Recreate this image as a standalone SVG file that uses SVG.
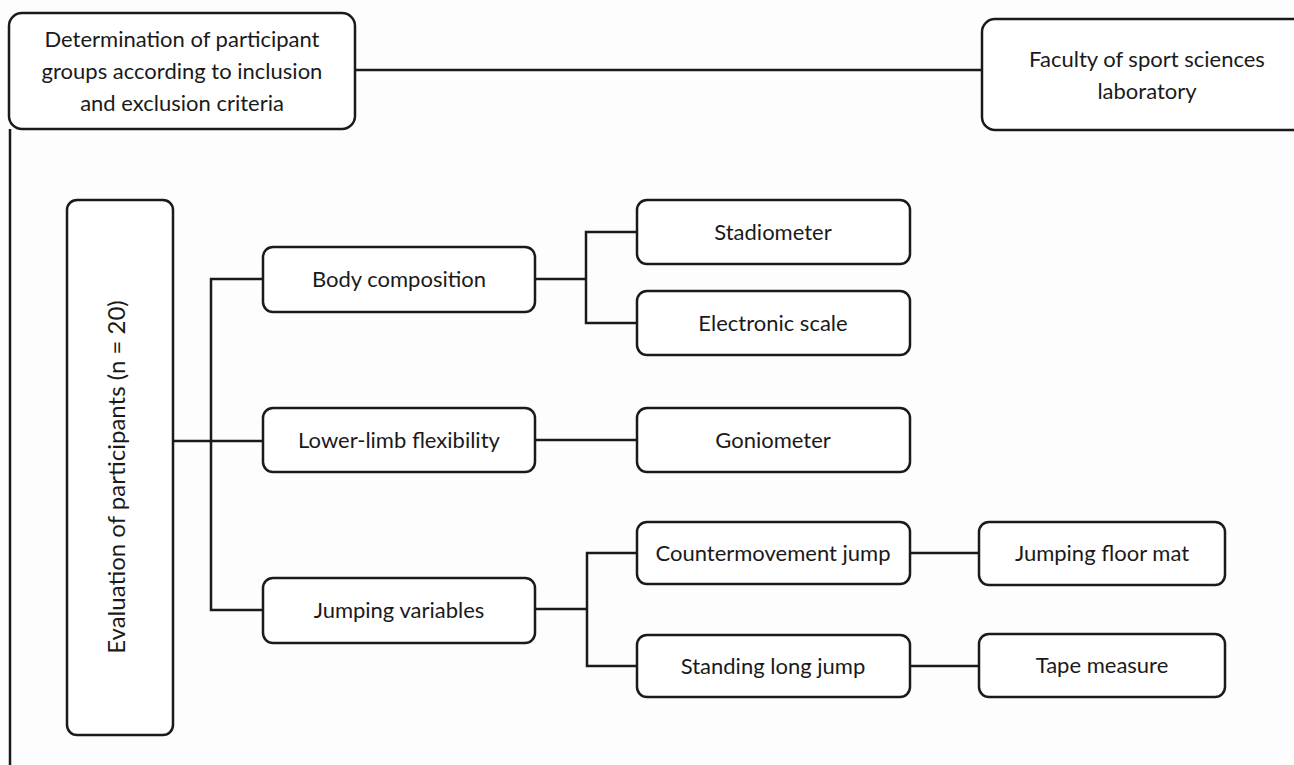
<svg xmlns="http://www.w3.org/2000/svg" width="1294" height="765" viewBox="0 0 1294 765">
<style>
.box{fill:#ffffff;stroke:#1a1a1a;stroke-width:2.5}
.t{font-family:Lato,"Liberation Sans",sans-serif;font-size:22px;fill:#1a1a1a;text-anchor:middle}
.c{fill:none;stroke:#1a1a1a;stroke-width:2.5}
</style>
<rect x="0" y="0" width="1294" height="765" fill="#fdfdfd"/>
<g id="connectors">
<path class="c" d="M10 129 V765"/>
<path class="c" d="M355 70 H982"/>
<path class="c" d="M173 441 H263"/>
<path class="c" d="M263 279 H211 V610 H263"/>
<path class="c" d="M535 279 H586"/>
<path class="c" d="M637 232 H586 V323 H637"/>
<path class="c" d="M535 440 H637"/>
<path class="c" d="M535 609 H587"/>
<path class="c" d="M637 553 H587 V666 H637"/>
<path class="c" d="M910 553 H979"/>
<path class="c" d="M910 666 H979"/>
</g>
<g id="n-determination">
<rect class="box" x="9" y="13" width="346" height="116" rx="13"/>
<text class="t" x="182" y="47">Determination of participant</text>
<text class="t" x="182" y="79">groups according to inclusion</text>
<text class="t" x="182" y="111">and exclusion criteria</text>
</g>
<g id="n-faculty">
<rect class="box" x="982" y="19" width="330" height="111" rx="13"/>
<text class="t" x="1147" y="67">Faculty of sport sciences</text>
<text class="t" x="1147" y="99">laboratory</text>
</g>
<g id="n-evaluation">
<rect class="box" x="67" y="200" width="106" height="535" rx="10"/>
<text class="t" transform="translate(125,477) rotate(-90)" style="font-size:24px">Evaluation of participants (n = 20)</text>
</g>
<g id="n-body">
<rect class="box" x="263" y="247" width="272" height="65" rx="10"/>
<text class="t" x="399" y="287">Body composition</text>
</g>
<g id="n-lower">
<rect class="box" x="263" y="408" width="272" height="64" rx="10"/>
<text class="t" x="399" y="448">Lower-limb flexibility</text>
</g>
<g id="n-jumping">
<rect class="box" x="263" y="578" width="272" height="65" rx="10"/>
<text class="t" x="399" y="618">Jumping variables</text>
</g>
<g id="n-stadiometer">
<rect class="box" x="637" y="200" width="273" height="64" rx="10"/>
<text class="t" x="773" y="240">Stadiometer</text>
</g>
<g id="n-scale">
<rect class="box" x="637" y="291" width="273" height="64" rx="10"/>
<text class="t" x="773" y="331">Electronic scale</text>
</g>
<g id="n-goniometer">
<rect class="box" x="637" y="408" width="273" height="64" rx="10"/>
<text class="t" x="773" y="448">Goniometer</text>
</g>
<g id="n-cmj">
<rect class="box" x="637" y="522" width="273" height="62" rx="10"/>
<text class="t" x="773" y="561">Countermovement jump</text>
</g>
<g id="n-slj">
<rect class="box" x="637" y="635" width="273" height="62" rx="10"/>
<text class="t" x="773" y="674">Standing long jump</text>
</g>
<g id="n-mat">
<rect class="box" x="979" y="522" width="246" height="63" rx="10"/>
<text class="t" x="1102" y="561">Jumping floor mat</text>
</g>
<g id="n-tape">
<rect class="box" x="979" y="634" width="246" height="63" rx="10"/>
<text class="t" x="1102" y="673">Tape measure</text>
</g>
</svg>
